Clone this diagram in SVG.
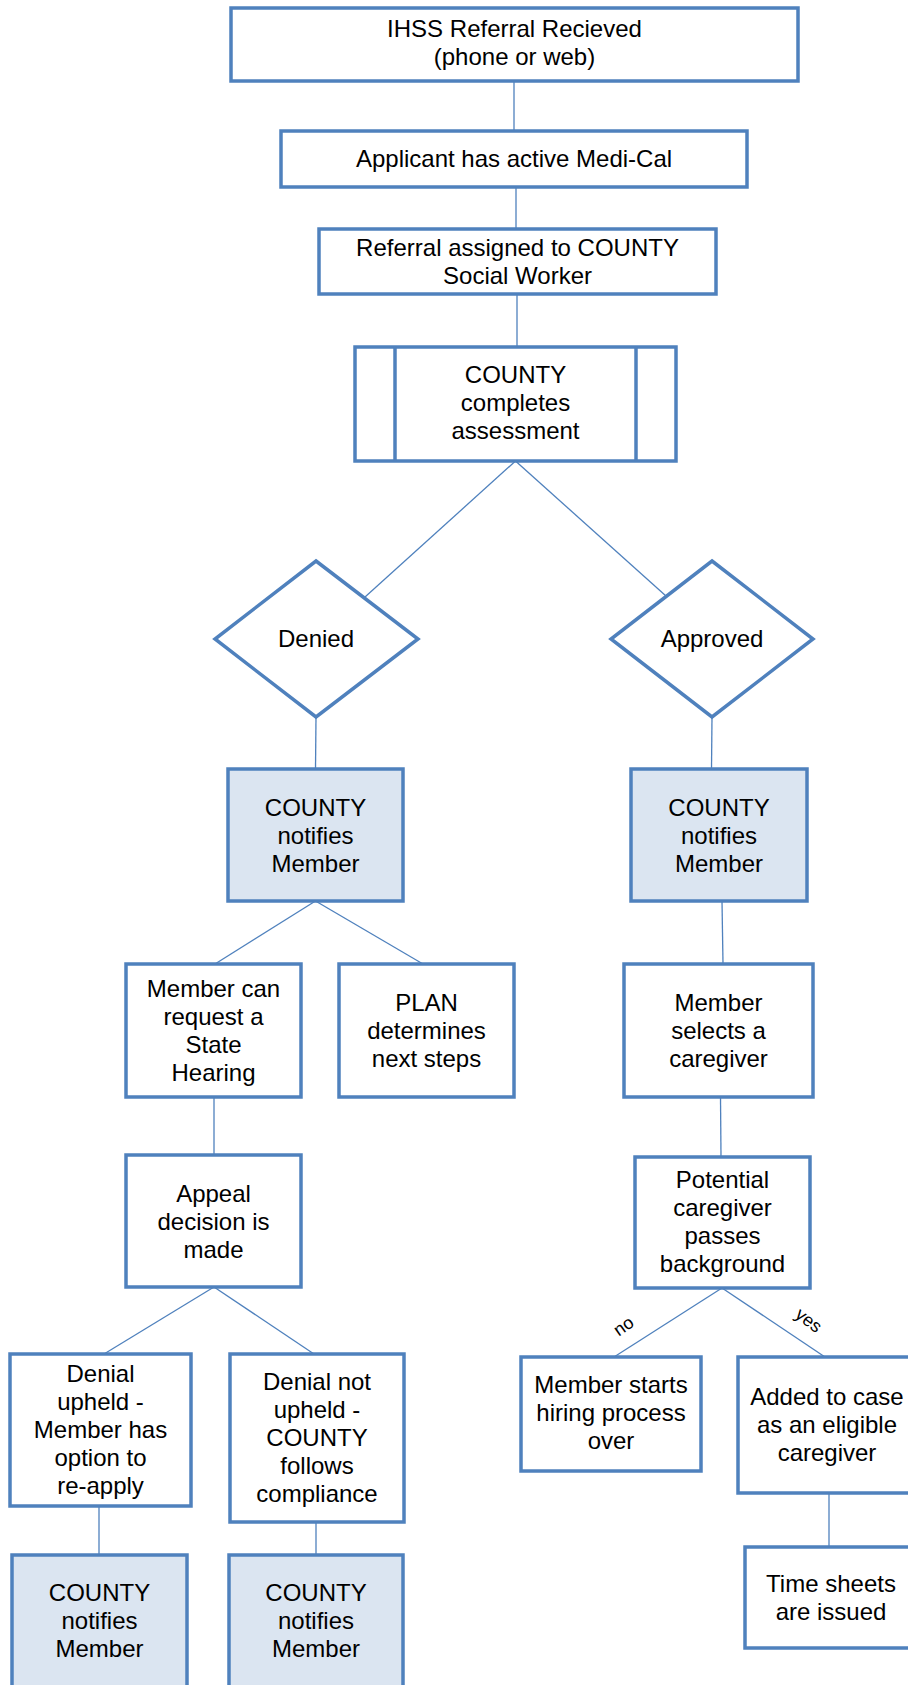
<svg xmlns="http://www.w3.org/2000/svg" width="908" height="1685" viewBox="0 0 908 1685">
<style>
.box{fill:#fff;stroke:#4F81BD;stroke-width:3.5}
.blue{fill:#DBE5F1;stroke:#4F81BD;stroke-width:3.5}
.con line{stroke:#4F81BD;stroke-width:1.3}
text{font-family:"Liberation Sans",Arial,sans-serif;font-size:24px;fill:#000;text-anchor:middle}
.lbl{font-size:18px}
</style>
<rect width="908" height="1685" fill="#fff"/>
<g id="connectors" class="con">
<line x1="514" y1="81" x2="514" y2="131"/>
<line x1="516" y1="187" x2="516" y2="229"/>
<line x1="517" y1="294" x2="517" y2="347"/>
<line x1="515.5" y1="461" x2="365" y2="597"/>
<line x1="515.5" y1="461" x2="666" y2="596"/>
<line x1="316" y1="717" x2="315.5" y2="769"/>
<line x1="712" y1="717" x2="711.5" y2="769"/>
<line x1="315.5" y1="901" x2="215" y2="964"/>
<line x1="315.5" y1="901" x2="423" y2="964"/>
<line x1="722" y1="901" x2="723" y2="964"/>
<line x1="214" y1="1097" x2="214" y2="1155"/>
<line x1="720.5" y1="1097" x2="721" y2="1157"/>
<line x1="214" y1="1287" x2="104" y2="1354"/>
<line x1="214" y1="1287" x2="314" y2="1354"/>
<line x1="722" y1="1288" x2="614" y2="1357"/>
<line x1="722" y1="1288" x2="825" y2="1357"/>
<line x1="99" y1="1506" x2="99" y2="1555"/>
<line x1="316" y1="1522" x2="316" y2="1555"/>
<line x1="829" y1="1493" x2="829" y2="1547"/>
<text class="lbl" transform="translate(627,1331) rotate(-35)">no</text>
<text class="lbl" transform="translate(805,1325) rotate(38)">yes</text>
</g>
<g id="n1"><rect class="box" x="231" y="8" width="567" height="73"/><text x="514.5" y="37">IHSS Referral Recieved</text><text x="514.5" y="65">(phone or web)</text></g>
<g id="n2"><rect class="box" x="281" y="131" width="466" height="56"/><text x="514" y="167">Applicant has active Medi-Cal</text></g>
<g id="n3"><rect class="box" x="319" y="229" width="397" height="65"/><text x="517.5" y="256">Referral assigned to COUNTY</text><text x="517.5" y="284">Social Worker</text></g>
<g id="n4"><rect class="box" x="355" y="347" width="321" height="114"/><line x1="395" y1="347" x2="395" y2="461" stroke="#4F81BD" stroke-width="3.5"/><line x1="636" y1="347" x2="636" y2="461" stroke="#4F81BD" stroke-width="3.5"/><text x="515.5" y="383">COUNTY</text><text x="515.5" y="411">completes</text><text x="515.5" y="439">assessment</text></g>
<g id="n5"><polygon class="box" points="316,561 418,639 316,717 215,639"/><text x="316" y="647">Denied</text></g>
<g id="n6"><polygon class="box" points="712,561 813,639 712,717 611,639"/><text x="712" y="647">Approved</text></g>
<g id="n7"><rect class="blue" x="228" y="769" width="175" height="132"/><text x="315.5" y="816">COUNTY</text><text x="315.5" y="844">notifies</text><text x="315.5" y="872">Member</text></g>
<g id="n8"><rect class="blue" x="631" y="769" width="176" height="132"/><text x="719" y="816">COUNTY</text><text x="719" y="844">notifies</text><text x="719" y="872">Member</text></g>
<g id="n9"><rect class="box" x="126" y="964" width="175" height="133"/><text x="213.5" y="997">Member can</text><text x="213.5" y="1025">request a</text><text x="213.5" y="1053">State</text><text x="213.5" y="1081">Hearing</text></g>
<g id="n10"><rect class="box" x="339" y="964" width="175" height="133"/><text x="426.5" y="1011">PLAN</text><text x="426.5" y="1039">determines</text><text x="426.5" y="1067">next steps</text></g>
<g id="n11"><rect class="box" x="624" y="964" width="189" height="133"/><text x="718.5" y="1011">Member</text><text x="718.5" y="1039">selects a</text><text x="718.5" y="1067">caregiver</text></g>
<g id="n12"><rect class="box" x="126" y="1155" width="175" height="132"/><text x="213.5" y="1202">Appeal</text><text x="213.5" y="1230">decision is</text><text x="213.5" y="1258">made</text></g>
<g id="n13"><rect class="box" x="635" y="1157" width="175" height="131"/><text x="722.5" y="1188">Potential</text><text x="722.5" y="1216">caregiver</text><text x="722.5" y="1244">passes</text><text x="722.5" y="1272">background</text></g>
<g id="n14"><rect class="box" x="10" y="1354" width="181" height="152"/><text x="100.5" y="1382">Denial</text><text x="100.5" y="1410">upheld -</text><text x="100.5" y="1438">Member has</text><text x="100.5" y="1466">option to</text><text x="100.5" y="1494">re-apply</text></g>
<g id="n15"><rect class="box" x="230" y="1354" width="174" height="168"/><text x="317" y="1390">Denial not</text><text x="317" y="1418">upheld -</text><text x="317" y="1446">COUNTY</text><text x="317" y="1474">follows</text><text x="317" y="1502">compliance</text></g>
<g id="n16"><rect class="box" x="521" y="1357" width="180" height="114"/><text x="611" y="1393">Member starts</text><text x="611" y="1421">hiring process</text><text x="611" y="1449">over</text></g>
<g id="n17"><rect class="box" x="738" y="1357" width="178" height="136"/><text x="827" y="1405">Added to case</text><text x="827" y="1433">as an eligible</text><text x="827" y="1461">caregiver</text></g>
<g id="n18"><rect class="box" x="745" y="1547" width="172" height="101"/><text x="831" y="1592">Time sheets</text><text x="831" y="1620">are issued</text></g>
<g id="n19"><rect class="blue" x="12" y="1555" width="175" height="134"/><text x="99.5" y="1601">COUNTY</text><text x="99.5" y="1629">notifies</text><text x="99.5" y="1657">Member</text></g>
<g id="n20"><rect class="blue" x="229" y="1555" width="174" height="134"/><text x="316" y="1601">COUNTY</text><text x="316" y="1629">notifies</text><text x="316" y="1657">Member</text></g>
</svg>
